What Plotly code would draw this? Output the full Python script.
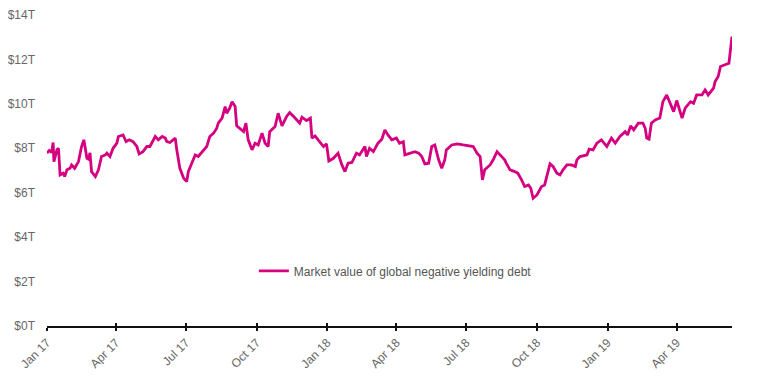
import plotly.graph_objects as go

dates = [
    "2017-01-01","2017-01-04","2017-01-07","2017-01-09","2017-01-10","2017-01-14","2017-01-16","2017-01-18",
    "2017-01-22","2017-01-24","2017-01-27","2017-01-31","2017-02-02","2017-02-06","2017-02-11","2017-02-15",
    "2017-02-18","2017-02-22","2017-02-24","2017-02-26","2017-02-28","2017-03-05","2017-03-09","2017-03-13",
    "2017-03-18","2017-03-20","2017-03-24","2017-03-28","2017-04-02","2017-04-04","2017-04-10","2017-04-14",
    "2017-04-18","2017-04-23","2017-04-28","2017-05-01","2017-05-06","2017-05-11","2017-05-15","2017-05-22",
    "2017-05-26","2017-05-31","2017-06-04","2017-06-06","2017-06-10","2017-06-17","2017-06-19","2017-06-23",
    "2017-06-28","2017-07-02","2017-07-04","2017-07-09","2017-07-13","2017-07-17","2017-07-22","2017-07-28",
    "2017-08-01","2017-08-06","2017-08-10","2017-08-12","2017-08-17","2017-08-21","2017-08-23","2017-08-27",
    "2017-08-30","2017-09-03","2017-09-05","2017-09-09","2017-09-14","2017-09-17","2017-09-20","2017-09-25",
    "2017-09-29","2017-10-03","2017-10-08","2017-10-12","2017-10-16","2017-10-18","2017-10-25","2017-10-29",
    "2017-11-03","2017-11-09","2017-11-13","2017-11-20","2017-11-26","2017-11-29","2017-12-05","2017-12-10",
    "2017-12-12","2017-12-16","2017-12-23","2017-12-27","2017-12-31","2018-01-03","2018-01-09","2018-01-15",
    "2018-01-20","2018-01-24","2018-01-28","2018-02-02","2018-02-08","2018-02-12","2018-02-19","2018-02-21",
    "2018-02-25","2018-03-02","2018-03-08","2018-03-13","2018-03-17","2018-03-21","2018-03-26","2018-04-01",
    "2018-04-05","2018-04-10","2018-04-12","2018-04-19","2018-04-25","2018-04-30","2018-05-04","2018-05-08",
    "2018-05-13","2018-05-17","2018-05-21","2018-05-26","2018-05-30","2018-06-03","2018-06-05","2018-06-12",
    "2018-06-19","2018-06-27","2018-07-06","2018-07-10","2018-07-15","2018-07-19","2018-07-22","2018-07-25",
    "2018-08-01","2018-08-05","2018-08-10","2018-08-16","2018-08-20","2018-08-22","2018-08-27","2018-09-02",
    "2018-09-06","2018-09-11","2018-09-15","2018-09-20","2018-09-23","2018-09-26","2018-10-01","2018-10-07",
    "2018-10-11","2018-10-18","2018-10-22","2018-10-27","2018-10-31","2018-11-04","2018-11-09","2018-11-15",
    "2018-11-20","2018-11-22","2018-11-26","2018-12-05","2018-12-08","2018-12-13","2018-12-18","2018-12-24",
    "2018-12-31","2019-01-06","2019-01-11","2019-01-17","2019-01-24","2019-01-27","2019-01-31","2019-02-04",
    "2019-02-10","2019-02-16","2019-02-19","2019-02-21","2019-02-24","2019-02-27","2019-03-04","2019-03-10",
    "2019-03-14","2019-03-19","2019-03-23","2019-03-28","2019-04-01","2019-04-06","2019-04-08","2019-04-12",
    "2019-04-19","2019-04-23","2019-04-27","2019-05-04","2019-05-08","2019-05-12","2019-05-19","2019-05-21",
    "2019-05-25","2019-05-28","2019-06-02","2019-06-08","2019-06-10","2019-06-12",
]

values = [
    7.78,7.90,7.81,8.26,7.40,7.93,8.00,6.80,
    6.88,6.73,7.03,7.10,7.25,7.10,7.40,8.08,
    8.38,7.55,7.51,7.79,6.95,6.73,7.03,7.63,
    7.70,7.78,7.63,8.00,8.23,8.53,8.60,8.30,
    8.38,8.30,8.08,7.75,7.85,8.08,8.08,8.53,
    8.38,8.53,8.46,8.30,8.26,8.46,7.93,7.10,
    6.65,6.50,6.95,7.33,7.70,7.63,7.85,8.08,
    8.53,8.68,8.90,9.13,9.36,9.88,9.58,9.81,
    10.10,9.88,9.01,8.90,8.75,9.13,8.38,7.93,
    8.23,8.15,8.68,8.23,8.08,8.75,8.98,9.58,
    9.01,9.43,9.61,9.36,9.13,9.40,9.25,9.36,
    8.46,8.56,8.23,8.08,8.20,7.43,7.55,7.78,
    7.25,6.95,7.33,7.36,7.78,7.70,8.08,7.63,
    8.00,7.85,8.23,8.41,8.83,8.60,8.38,8.46,
    8.23,8.30,7.70,7.78,7.85,7.78,7.63,7.30,
    7.33,8.08,8.15,7.48,7.10,7.48,7.93,8.15,
    8.20,8.15,8.11,8.08,7.78,7.63,6.58,7.03,
    7.25,7.48,7.85,7.63,7.48,7.33,7.03,6.95,
    6.88,6.58,6.28,6.35,6.20,5.75,5.90,6.28,
    6.35,7.30,7.18,6.88,6.80,7.03,7.25,7.25,
    7.18,7.48,7.63,7.70,7.96,7.93,8.23,8.38,
    8.08,8.46,8.23,8.53,8.75,8.60,9.01,8.83,
    9.13,9.13,8.90,8.46,8.41,9.13,9.28,9.36,
    10.10,10.40,10.03,9.65,10.15,9.58,9.36,9.81,
    10.10,10.03,10.40,10.40,10.63,10.40,10.71,11.00,
    11.23,11.68,11.76,11.83,12.43,13.03,
]

series_name = "Market value of global negative yielding debt"
x_tick_vals = ["2017-01-01","2017-04-01","2017-07-01","2017-10-01","2018-01-01","2018-04-01",
               "2018-07-01","2018-10-01","2019-01-01","2019-04-01"]
x_tick_text = ["Jan 17","Apr 17","Jul 17","Oct 17","Jan 18","Apr 18","Jul 18","Oct 18","Jan 19","Apr 19"]
y_tick_vals = [0, 2, 4, 6, 8, 10, 12, 14]
y_tick_text = ["$0T","$2T","$4T","$6T","$8T","$10T","$12T","$14T"]

x_range = ["2017-01-01", "2019-06-12"]
line_color = "#D4007F"
text_color = "#666666"
font_family = "Liberation Sans, Arial, sans-serif"

fig = go.Figure()
fig.add_trace(go.Scatter(
    x=dates, y=values, mode="lines", name=series_name,
    line=dict(color=line_color, width=2.8),
    showlegend=True,
))
# invisible helper trace on overlaying axis for inside ticks
fig.add_trace(go.Scatter(x=[x_range[0]], y=[0], xaxis="x2", mode="markers",
                         marker=dict(opacity=0), showlegend=False, hoverinfo="skip"))

fig.update_layout(
    width=757, height=378,
    margin=dict(l=39, r=33, t=7, b=60, autoexpand=False),
    paper_bgcolor="white", plot_bgcolor="white",
    font=dict(family=font_family, color=text_color, size=12),
    showlegend=True,
    legend=dict(x=0.302, y=0.177, xanchor="left", yanchor="middle",
                bgcolor="rgba(0,0,0,0)", font=dict(size=12, color="#555555"),
                itemwidth=30),
    xaxis=dict(
        type="date", range=x_range, automargin=False,
        tickvals=x_tick_vals, ticktext=x_tick_text, tickangle=-45,
        showgrid=False, zeroline=False,
        showline=True, linecolor="#111111", linewidth=2,
        ticks="outside", ticklen=3, tickwidth=2, tickcolor="#111111",
        tickfont=dict(size=12, color=text_color),
    ),
    xaxis2=dict(
        type="date", range=x_range, overlaying="x", anchor="y", automargin=False,
        tickvals=x_tick_vals, showticklabels=False, showgrid=False, zeroline=False,
        ticks="inside", ticklen=3, tickwidth=2, tickcolor="#111111", showline=False,
    ),
    yaxis=dict(
        range=[0, 14], tickvals=y_tick_vals, ticktext=y_tick_text, automargin=False,
        showgrid=False, zeroline=False, showline=False, ticks="",
        ticklabelstandoff=11,
        tickfont=dict(size=12, color=text_color),
    ),
)

fig.write_html("out.html")
